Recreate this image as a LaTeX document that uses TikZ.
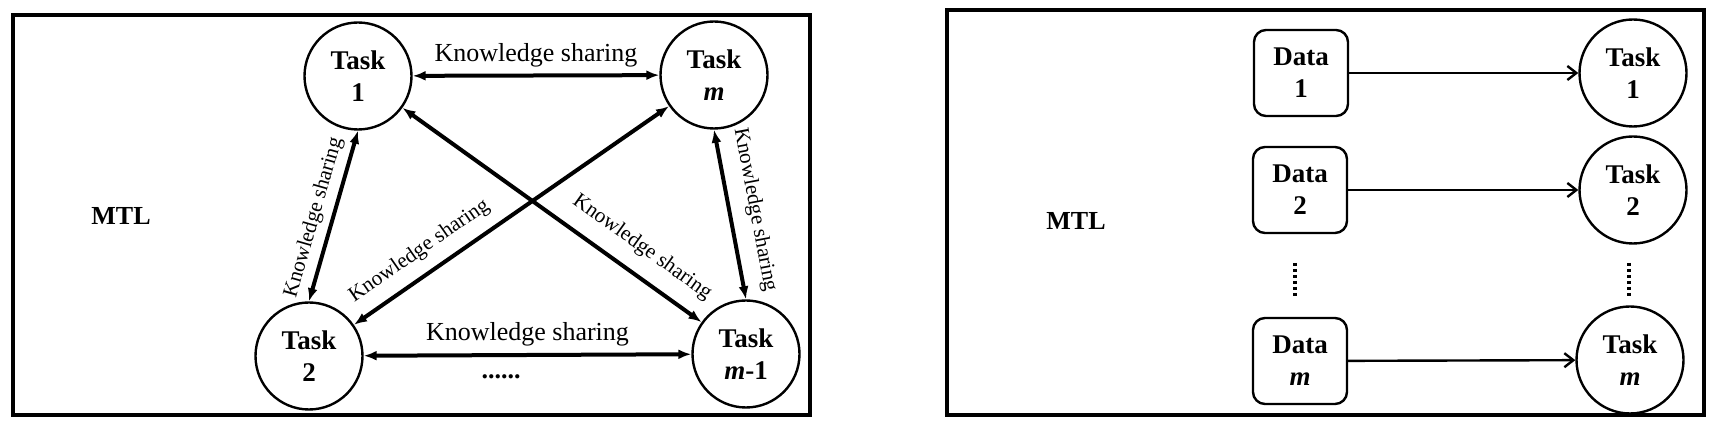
\documentclass[tikz,border=0pt]{standalone}
\usepackage{fontspec}
\setmainfont{Liberation Serif}
\usetikzlibrary{arrows.meta}
\begin{document}
\begin{tikzpicture}[x=0.5pt,y=-0.5pt,
  task/.style={circle,draw,line width=1.2pt,minimum size=53.5pt,inner sep=0pt,align=center,font=\fontsize{13.5}{16}\selectfont\bfseries},
  datab/.style={rectangle,rounded corners=6pt,draw,line width=1.2pt,minimum width=47pt,minimum height=43pt,inner sep=0pt,align=center,font=\fontsize{13.5}{16}\selectfont\bfseries},
  panel/.style={draw,line width=1.6pt},
  biarrow/.style={{Latex[length=6.5pt,width=5pt]}-{Latex[length=6.5pt,width=5pt]},line width=2pt},
  flow/.style={-{Straight Barb[length=4.5pt,width=7pt]},line width=1.2pt},
  lbl/.style={font=\fontsize{13}{16}\selectfont},
  slbl/.style={font=\fontsize{10.6}{12}\selectfont,sloped},
  mtl/.style={font=\fontsize{13}{16}\selectfont\bfseries},
  vdots/.style={line width=2pt,dash pattern=on 1.5pt off 1.5pt}
]
\useasboundingbox (0,0) rectangle (1714,426);
% panels
\draw[panel] (13,15) rectangle (810,415);
\draw[panel] (947,10) rectangle (1704,415);
% left panel
\node[mtl] (mtlL) at (121,216) {MTL};
\node[task] (t1) at (358,76) {Task\\1};
\node[task] (tm) at (714,75) {Task\\\textit{m}};
\node[task] (t2) at (309,356) {Task\\2};
\node[task] (tm1) at (746,354) {Task\\\textit{m}-1};
\draw[biarrow] (t1) -- node[lbl,above] (lab1) {Knowledge sharing} (tm);
\draw[biarrow] (t2) -- node[lbl,above] (lab2) {Knowledge sharing} (tm1);
\node[lbl,font=\fontsize{13}{16}\selectfont\bfseries] (dotsL) at (501,377) {......};
\draw[biarrow] (t2.north) -- node[slbl,above,pos=0.46] (lab3) {Knowledge sharing} (t1.south);
\draw[biarrow] (tm.south) -- node[slbl,above=3.5pt,pos=0.5] (lab4) {Knowledge sharing} (tm1.north);
\draw[biarrow] (t2) -- node[slbl,above=2.5pt,pos=0.25] (lab5) {Knowledge sharing} (tm);
\draw[biarrow] (t1) -- node[slbl,above=4pt,pos=0.75] (lab6) {Knowledge sharing} (tm1);
% right panel
\node[mtl] (mtlR) at (1076,221) {MTL};
\node[datab] (d1) at (1301,73) {Data\\1};
\node[datab] (d2) at (1300,190) {Data\\2};
\node[datab] (dm) at (1300,361) {Data\\\textit{m}};
\node[task] (r1) at (1633,73) {Task\\1};
\node[task] (r2) at (1633,190) {Task\\2};
\node[task] (rm) at (1630,360) {Task\\\textit{m}};
\draw[flow] (d1) -- (r1);
\draw[flow] (d2) -- (r2);
\draw[flow] (dm) -- (rm);
\coordinate (va) at (1295,263);
\coordinate (vb) at (1295,298);
\coordinate (vc) at (1629,263);
\coordinate (vd) at (1629,298);
\draw[vdots] (va) -- (vb);
\draw[vdots] (vc) -- (vd);
\end{tikzpicture}
\end{document}
